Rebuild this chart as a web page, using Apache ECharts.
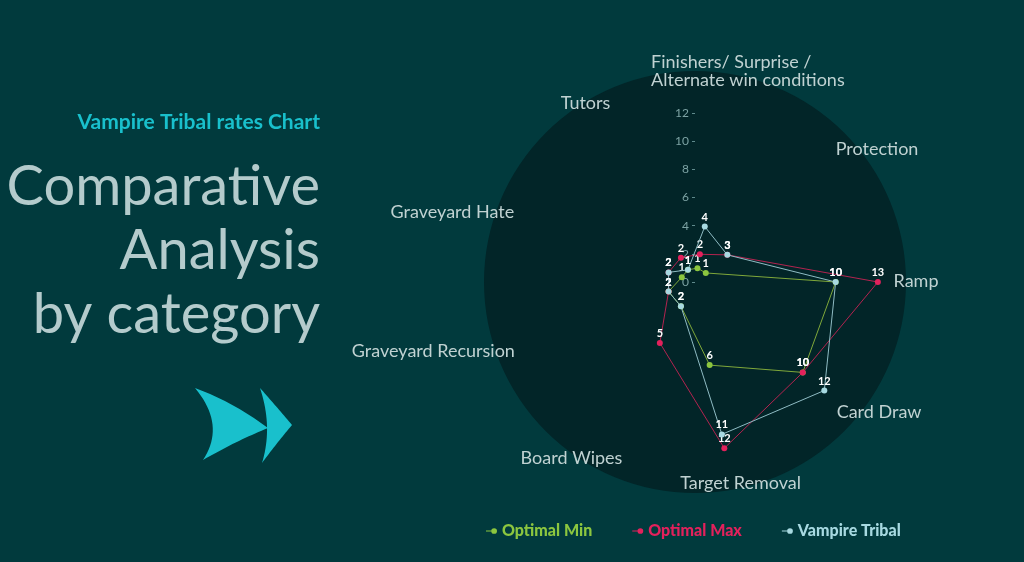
<!DOCTYPE html>
<html>
<head>
<meta charset="utf-8">
<script src="https://cdn.jsdelivr.net/npm/echarts@6/dist/echarts.min.js"></script>
<style>
html,body{margin:0;padding:0;background:#013a3d;}
#c{width:1024px;height:562px;}
</style>
</head>
<body>
<div id="c"></div>
<script>
var categories = ['Finishers/ Surprise /\nAlternate win conditions','Tutors','Graveyard Hate','Graveyard Recursion','Board Wipes','Target Removal','Card Draw','Ramp','Protection'];
var optimalMin = [1,1,1,2,2,6,10,10,1];
var optimalMax = [2,2,2,2,5,12,10,13,3];
var vampireTribal = [4,1,2,2,2,11,12,10,3];
var seriesNames = ['Optimal Min','Optimal Max','Vampire Tribal'];
var seriesColors = ['#8cc63f','#e3215c','#a7d9e1'];
var lineColors = ['#7fa83a','#b3234f','#8fbcc4'];
var radialTicks = [0,2,4,6,8,10,12];

var FONT = 'Lato, "Noto Sans", sans-serif';
var NAME_COLOR = '#c0d2d2';
var centerPos = [695, 282];
var maxVal = 15;
var outerR = 211;
// label nudges (layout only): [dx, dy] in px from the radar's own name anchor
var nameNudge = [[16,-9],[-7,-1],[-50,0],[-69,-1],[-21,-1],[10,-1],[27,-2],[16,-1],[25,-1]];

function quadShape(pts) {
  var out = [];
  var p0 = pts[0];
  for (var i = 1; i < pts.length; i += 2) {
    var c = pts[i], p1 = pts[i + 1];
    for (var t = 0; t <= 1.0001; t += 0.05) {
      var a = (1 - t) * (1 - t), b = 2 * (1 - t) * t, d = t * t;
      out.push([a * p0[0] + b * c[0] + d * p1[0], a * p0[1] + b * c[1] + d * p1[1]]);
    }
    p0 = p1;
  }
  return out;
}

var rich = {};
categories.forEach(function (c, i) {
  var dx = nameNudge[i][0], dy = nameNudge[i][1];
  var pad = [dy > 0 ? 2 * dy : 0, dx < 0 ? -2 * dx : 0, dy < 0 ? -2 * dy : 0, dx > 0 ? 2 * dx : 0];
  rich['n' + i] = {padding: pad, color: NAME_COLOR, fontSize: 18, fontFamily: FONT};
});
rich.f1 = {width: 200, height: 18, align: 'left', padding: [0, 0, 0, 41], color: NAME_COLOR, fontSize: 18, lineHeight: 18, fontFamily: FONT};

var chart = echarts.init(document.getElementById('c'));
var values = [optimalMin, optimalMax, vampireTribal];
var icon = 'path://M0,3.5 L8,3.5 L8,4.5 L0,4.5 Z M8.5,1 A3,3 0 1 1 8.49,1 Z';

var option = {
  backgroundColor: '#013a3d',
  animation: false,
  title: [
    {text: 'Vampire Tribal rates Chart', left: 320, top: 112, padding: 0, textAlign: 'right',
     textStyle: {color: '#19c0cc', fontSize: 21, fontWeight: 'bold', fontFamily: FONT}},
    {text: 'Comparative\nAnalysis\nby category', left: 320, top: 155, padding: 0, textAlign: 'right',
     textStyle: {color: '#b4cbcc', fontSize: 56, lineHeight: 64, fontWeight: 'normal', fontFamily: FONT}}
  ],
  graphic: [
    {type: 'polygon', shape: {points: quadShape([[195,388],[233,402],[268,428],[236,441],[203,460],[226,425],[195,388]])}, style: {fill: '#19c0cc'}},
    {type: 'polygon', shape: {points: quadShape([[260,388],[276,406],[292,425],[276,444],[262,463],[273,427],[260,388]])}, style: {fill: '#19c0cc'}}
  ],
  legend: {
    bottom: 23, left: 486, itemGap: 40, itemWidth: 11, itemHeight: 6, icon: icon, padding: 0,
    data: seriesNames.map(function (n, i) {
      return {name: n, textStyle: {color: seriesColors[i], fontSize: 16, fontWeight: 900, fontFamily: FONT}};
    })
  },
  polar: {center: centerPos, radius: outerR * 12 / maxVal},
  angleAxis: {show: false, startAngle: 90, min: 0, max: 360},
  radiusAxis: {
    min: radialTicks[0], max: radialTicks[radialTicks.length - 1], interval: 2,
    axisLine: {show: false}, splitLine: {show: false},
    axisTick: {show: true, length: 3, lineStyle: {color: '#5f8a8c'}},
    axisLabel: {color: '#7da3a4', fontSize: 12, fontFamily: FONT, margin: 6}
  },
  radar: {
    center: centerPos, radius: outerR, startAngle: 80, shape: 'circle', splitNumber: 1,
    nameGap: -6,
    indicator: categories.map(function (c) { return {name: c, min: 0, max: maxVal}; }),
    axisName: {
      color: NAME_COLOR, fontSize: 18, fontFamily: FONT, align: 'center', verticalAlign: 'middle',
      formatter: function (name) {
        var i = categories.indexOf(name);
        if (i === 0) {
          var ls = name.split('\n');
          return '{f1|' + ls[0] + '}\n{f1|' + ls[1] + '}\n{f1| }';
        }
        return '{n' + i + '|' + name + '}';
      },
      rich: rich
    },
    axisLine: {show: false}, axisTick: {show: false}, axisLabel: {show: false},
    splitLine: {show: false},
    splitArea: {show: true, areaStyle: {color: ['#022528']}}
  },
  series: seriesNames.map(function (n, i) {
    return {
      type: 'radar', name: n, z: 2 + i,
      symbol: 'circle', symbolSize: 6,
      itemStyle: {color: seriesColors[i]},
      lineStyle: {color: lineColors[i], width: 1},
      label: {show: true, position: 'top', distance: 1, color: '#ffffff', fontSize: 11, fontWeight: 'bold', fontFamily: FONT},
      data: [{name: n, value: values[i]}]
    };
  })
};
chart.setOption(option);
</script>
</body>
</html>
